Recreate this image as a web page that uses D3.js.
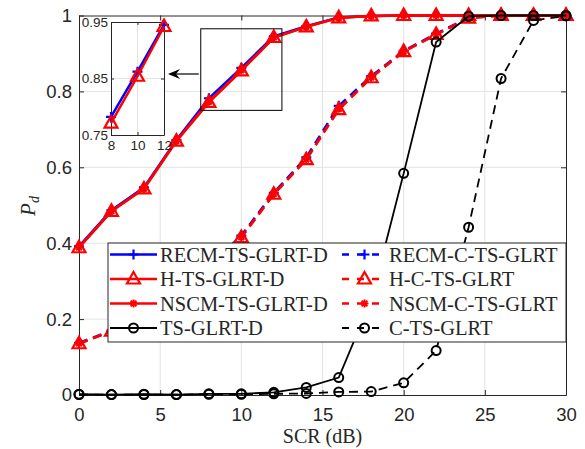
<!DOCTYPE html>
<html>
<head>
<meta charset="utf-8">
<script src="https://cdn.jsdelivr.net/npm/d3@7"></script>
<style>
  body { margin: 0; background: #fff; }
  svg { display: block; }
  .tick text { font-family: "Liberation Sans", Arial, sans-serif; fill: #262626; }
</style>
</head>
<body>
<div id="graph"></div>
<script>
// SCR values (dB)
const scr = [0, 2, 4, 6, 8, 10, 12, 14, 16, 18, 20, 22, 24, 26, 28, 30];

// detection probability per detector
const recmD = [0.392, 0.487, 0.547, 0.672, 0.782, 0.862, 0.945, 0.972, 0.995, 0.999, 1, 1, 1, 1, 1, 1];
const recmC = [0.137, 0.170, 0.210, 0.270, 0.340, 0.420, 0.533, 0.626, 0.762, 0.840, 0.907, 0.952, 0.995, 1, 1, 1];
const hD = [0.388, 0.484, 0.543, 0.669, 0.771, 0.854, 0.942, 0.970, 0.994, 0.999, 1, 1, 1, 1, 1, 1];
const hC = [0.135, 0.168, 0.205, 0.265, 0.335, 0.415, 0.529, 0.620, 0.752, 0.836, 0.905, 0.950, 0.993, 1, 1, 1];
const nscmD = [0.389, 0.485, 0.544, 0.670, 0.773, 0.856, 0.942, 0.970, 0.994, 0.999, 1, 1, 1, 1, 1, 1];
const nscmC = [0.136, 0.168, 0.206, 0.266, 0.336, 0.416, 0.530, 0.621, 0.754, 0.837, 0.905, 0.950, 0.993, 1, 1, 1];
const tsD = [0.002, 0.001, 0.002, 0.001, 0.003, 0.003, 0.007, 0.020, 0.046, 0.250, 0.584, 0.930, 0.998, 1, 1, 1];
const cts = [0.001, 0.001, 0.001, 0.001, 0.002, 0.002, 0.003, 0.004, 0.008, 0.009, 0.032, 0.117, 0.442, 0.834, 0.987, 0.999];

const xTicks = [0, 5, 10, 15, 20, 25, 30];
const yTicks = [0, 0.2, 0.4, 0.6, 0.8, 1];
const insetXTicks = [8, 10, 12];
const insetYTicks = [0.75, 0.85, 0.95];

// series in legend order (row-wise, 2 columns)
const series = [
  { name: 'RECM-TS-GLRT-D', y: recmD, color: '#0000ff', dash: null, marker: 'plus', w: 2.5 },
  { name: 'RECM-C-TS-GLRT', y: recmC, color: '#0000ff', dash: '9,6', marker: 'plus', w: 2.5 },
  { name: 'H-TS-GLRT-D', y: hD, color: '#ff0000', dash: null, marker: 'tri', w: 2.5 },
  { name: 'H-C-TS-GLRT', y: hC, color: '#ff0000', dash: '9,6', marker: 'tri', w: 2.5 },
  { name: 'NSCM-TS-GLRT-D', y: nscmD, color: '#ff0000', dash: null, marker: 'star', w: 2.5 },
  { name: 'NSCM-C-TS-GLRT', y: nscmC, color: '#ff0000', dash: '9,6', marker: 'star', w: 2.5 },
  { name: 'TS-GLRT-D', y: tsD, color: '#000000', dash: null, marker: 'circle', w: 1.8 },
  { name: 'C-TS-GLRT', y: cts, color: '#000000', dash: '9,6', marker: 'circle', w: 1.8 }
];

const svgWidth = 585;
const svgHeight = 449;
const plot = { left: 79, right: 566, top: 15.5, bottom: 395 };

const svg = d3.select('#graph')
  .append('svg')
  .attr('width', svgWidth)
  .attr('height', svgHeight);

const x = d3.scaleLinear().domain([0, 30]).range([plot.left, plot.right]);
const y = d3.scaleLinear().domain([0, 1]).range([plot.bottom, plot.top]);

// grid
const grid = svg.append('g').attr('stroke', '#e3e3e3').attr('stroke-width', 1);
xTicks.slice(1, -1).forEach(t => {
  grid.append('line').attr('x1', x(t)).attr('x2', x(t)).attr('y1', plot.top).attr('y2', plot.bottom);
});
yTicks.slice(1, -1).forEach(t => {
  grid.append('line').attr('x1', plot.left).attr('x2', plot.right).attr('y1', y(t)).attr('y2', y(t));
});

// axes
function styleAxis(g) {
  g.select('.domain').attr('stroke', '#262626');
  g.selectAll('.tick line').attr('stroke', '#262626');
}
svg.append('g')
  .attr('transform', `translate(0,${plot.bottom})`)
  .call(d3.axisBottom(x).tickValues(xTicks).tickSizeInner(-5).tickSizeOuter(0).tickPadding(13))
  .call(styleAxis)
  .selectAll('text').attr('font-size', 18.5);
svg.append('g')
  .attr('transform', `translate(${plot.left},0)`)
  .call(d3.axisLeft(y).tickValues(yTicks).tickFormat(d3.format('')).tickSizeInner(-5).tickSizeOuter(0).tickPadding(7))
  .call(styleAxis)
  .selectAll('text').attr('font-size', 18.5);
svg.append('g')
  .attr('transform', `translate(${plot.right},0)`)
  .call(d3.axisRight(y).tickValues(yTicks).tickSizeInner(-5).tickSizeOuter(0).tickFormat(''))
  .call(styleAxis);
svg.append('g')
  .attr('transform', `translate(0,${plot.top})`)
  .call(d3.axisTop(x).tickValues(xTicks).tickSizeInner(-5).tickSizeOuter(0).tickFormat(''))
  .call(styleAxis);

// axis labels
svg.append('text')
  .attr('x', (plot.left + plot.right) / 2)
  .attr('y', 443)
  .attr('text-anchor', 'middle')
  .attr('font-family', '"Liberation Serif", serif')
  .attr('font-size', 20)
  .attr('fill', '#262626')
  .text('SCR (dB)');
const yl = svg.append('text')
  .attr('transform', `translate(35,206) rotate(-90)`)
  .attr('text-anchor', 'middle')
  .attr('font-family', '"Liberation Serif", serif')
  .attr('font-style', 'italic')
  .attr('font-size', 21)
  .attr('fill', '#262626');
yl.append('tspan').text('P');
yl.append('tspan').attr('font-size', 14).attr('dy', 4).text('d');

// markers
function drawMarker(g, type, color, cx, cy) {
  if (type === 'plus') {
    g.append('path').attr('d', `M${cx - 5},${cy}H${cx + 5}M${cx},${cy - 5}V${cy + 5}`)
      .attr('stroke', color).attr('stroke-width', 2.2).attr('fill', 'none');
  } else if (type === 'tri') {
    g.append('path').attr('d', `M${cx},${cy - 7}L${cx + 6.5},${cy + 4.5}L${cx - 6.5},${cy + 4.5}Z`)
      .attr('stroke', color).attr('stroke-width', 2.2).attr('fill', 'none');
  } else if (type === 'star') {
    const r = 4, d = 2.9;
    g.append('path').attr('d', `M${cx - r},${cy}H${cx + r}M${cx},${cy - r}V${cy + r}M${cx - d},${cy - d}L${cx + d},${cy + d}M${cx - d},${cy + d}L${cx + d},${cy - d}`)
      .attr('stroke', color).attr('stroke-width', 2).attr('fill', 'none');
  } else if (type === 'circle') {
    g.append('circle').attr('cx', cx).attr('cy', cy).attr('r', 4.5)
      .attr('stroke', color).attr('stroke-width', 2).attr('fill', 'none');
  }
}

function drawSeries(g, s, xs, ys) {
  const line = d3.line().x(d => xs(d[0])).y(d => ys(d[1]));
  const pts = scr.map((v, i) => [v, s.y[i]]);
  g.append('path')
    .attr('d', line(pts))
    .attr('fill', 'none')
    .attr('stroke', s.color)
    .attr('stroke-width', s.w)
    .attr('stroke-dasharray', s.dash);
  pts.forEach(p => drawMarker(g, s.marker, s.color, xs(p[0]), ys(p[1])));
}

const lines = svg.append('g');
series.forEach(s => drawSeries(lines, s, x, y));

// zoom rectangle + arrow
svg.append('rect')
  .attr('x', x(7.5)).attr('y', y(0.965))
  .attr('width', x(12.5) - x(7.5)).attr('height', y(0.75) - y(0.965))
  .attr('fill', 'none').attr('stroke', '#000').attr('stroke-width', 1);
svg.append('line')
  .attr('x1', x(7.5) - 2).attr('x2', 170).attr('y1', 74).attr('y2', 74)
  .attr('stroke', '#000').attr('stroke-width', 1.2);
svg.append('path')
  .attr('d', 'M168,74 L180,69 L176,74 L180,79 Z')
  .attr('fill', '#000');

// inset
const inset = { left: 111, right: 164, top: 22, bottom: 135 };
const ix = d3.scaleLinear().domain([8, 12]).range([inset.left, inset.right]);
const iy = d3.scaleLinear().domain([0.75, 0.95]).range([inset.bottom, inset.top]);
const ig = svg.append('g');
ig.append('rect')
  .attr('x', inset.left).attr('y', inset.top)
  .attr('width', inset.right - inset.left).attr('height', inset.bottom - inset.top)
  .attr('fill', '#fff');
ig.append('line').attr('x1', ix(10)).attr('x2', ix(10)).attr('y1', inset.top).attr('y2', inset.bottom)
  .attr('stroke', '#e3e3e3');
ig.append('line').attr('x1', inset.left).attr('x2', inset.right).attr('y1', iy(0.85)).attr('y2', iy(0.85))
  .attr('stroke', '#e3e3e3');
ig.append('g')
  .attr('transform', `translate(0,${inset.bottom})`)
  .call(d3.axisBottom(ix).tickValues(insetXTicks).tickFormat(d3.format('d')).tickSizeInner(-3).tickSizeOuter(0).tickPadding(5))
  .call(styleAxis)
  .selectAll('text').attr('font-size', 13.5);
ig.append('g')
  .attr('transform', `translate(${inset.left},0)`)
  .call(d3.axisLeft(iy).tickValues(insetYTicks).tickSizeInner(-3).tickSizeOuter(0).tickPadding(3))
  .call(styleAxis)
  .selectAll('text').attr('font-size', 13.5);
ig.append('g')
  .attr('transform', `translate(${inset.right},0)`)
  .call(d3.axisRight(iy).tickValues(insetYTicks).tickSizeInner(-3).tickSizeOuter(0).tickFormat(''))
  .call(styleAxis);
ig.append('g')
  .attr('transform', `translate(0,${inset.top})`)
  .call(d3.axisTop(ix).tickValues(insetXTicks).tickSizeInner(-3).tickSizeOuter(0).tickFormat(''))
  .call(styleAxis);
const insetSeries = ig.append('g');
[series[0], series[2]].forEach(s => {
  const line = d3.line().x(d => ix(d[0])).y(d => iy(d[1]));
  const pts = scr.map((v, i) => [v, s.y[i]]).filter(p => p[0] >= 8 && p[0] <= 12);
  insetSeries.append('path')
    .attr('d', line(pts)).attr('fill', 'none')
    .attr('stroke', s.color).attr('stroke-width', 2.5);
  pts.forEach(p => drawMarker(insetSeries, s.marker, s.color, ix(p[0]), iy(p[1])));
});

// legend
const lg = svg.append('g');
lg.append('rect')
  .attr('x', 108).attr('y', 243).attr('width', 566 - 108).attr('height', 342 - 243)
  .attr('fill', '#fff').attr('stroke', '#262626').attr('stroke-width', 1);
const rowY = [254.5, 279, 303.5, 328];
const cols = [{ x1: 110, x2: 157, tx: 160 }, { x1: 342, x2: 387, tx: 389 }];
series.forEach((s, i) => {
  const c = cols[i % 2];
  const ry = rowY[Math.floor(i / 2)];
  lg.append('line')
    .attr('x1', c.x1).attr('x2', c.x2).attr('y1', ry).attr('y2', ry)
    .attr('stroke', s.color).attr('stroke-width', s.w)
    .attr('stroke-dasharray', s.dash ? '7,8' : null);
  drawMarker(lg, s.marker, s.color, (c.x1 + c.x2) / 2, ry);
  lg.append('text')
    .attr('x', c.tx).attr('y', ry + 7)
    .attr('font-family', '"Liberation Serif", serif')
    .attr('font-size', 20.5)
    .attr('fill', '#262626')
    .text(s.name);
});
</script>
</body>
</html>
